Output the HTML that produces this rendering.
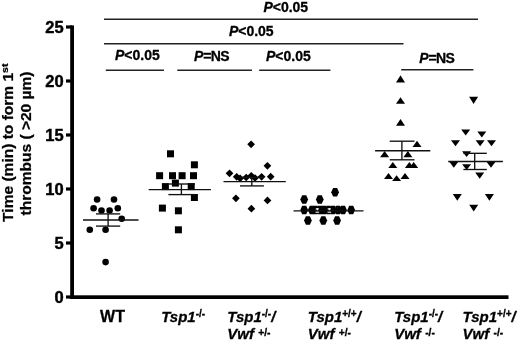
<!DOCTYPE html>
<html><head><meta charset="utf-8"><style>
html,body{margin:0;padding:0;background:#fff;width:520px;height:342px;overflow:hidden}
svg{display:block;will-change:transform}
</style></head><body>
<svg width="520" height="342" viewBox="0 0 520 342">
<g fill="#000" stroke="none">
<rect x="70.2" y="25.4" width="3.8" height="273.6"/>
<rect x="70.2" y="295.3" width="438.3" height="3.7"/>
<rect x="66" y="25.4" width="6" height="3.2"/>
<rect x="66" y="79.4" width="6" height="3.2"/>
<rect x="66" y="133.4" width="6" height="3.2"/>
<rect x="66" y="187.4" width="6" height="3.2"/>
<rect x="66" y="241.4" width="6" height="3.2"/>
<rect x="66" y="295.4" width="6" height="3.2"/>
</g>
<g font-family='"Liberation Sans", sans-serif' font-weight="bold" font-size="16.5" fill="#000" stroke="#000" stroke-width="0.45"><text x="63.6" y="32.5" text-anchor="end">25</text><text x="63.6" y="86.5" text-anchor="end">20</text><text x="63.6" y="140.5" text-anchor="end">15</text><text x="63.6" y="194.5" text-anchor="end">10</text><text x="63.6" y="248.5" text-anchor="end">5</text><text x="63.6" y="302.5" text-anchor="end">0</text></g>
<g font-family='"Liberation Sans", sans-serif' font-weight="bold" font-size="14" fill="#000" stroke="#000" stroke-width="0.25">
<text transform="translate(13,142.7) rotate(-90) scale(1.11,1)" text-anchor="middle">Time (min) to form 1<tspan font-size="9.5" dy="-5">st</tspan></text>
<text transform="translate(31,143.5) rotate(-90) scale(1.11,1)" text-anchor="middle">thrombus ( &gt;20 µm)</text>
</g>
<g font-family='"Liberation Sans", sans-serif' font-weight="bold" font-size="14" fill="#000" stroke="#000" stroke-width="0.3">
<text x="263.4" y="11.6"><tspan font-style="italic">P</tspan><tspan>&lt;0.05</tspan></text>
<text x="228.9" y="36.4"><tspan font-style="italic">P</tspan><tspan>&lt;0.05</tspan></text>
<text x="115" y="60"><tspan font-style="italic">P</tspan><tspan>&lt;0.05</tspan></text>
<text x="194" y="60.8"><tspan font-style="italic">P</tspan><tspan letter-spacing="-0.7">=NS</tspan></text>
<text x="266" y="60.5"><tspan font-style="italic">P</tspan><tspan>&lt;0.05</tspan></text>
<text x="419.2" y="62.5"><tspan font-style="italic">P</tspan><tspan letter-spacing="-0.7">=NS</tspan></text>
</g>
<g stroke="#222" stroke-width="1.4" fill="none">
<line x1="104" y1="19.3" x2="478" y2="19.3"/>
<line x1="104" y1="43.7" x2="403.5" y2="43.7"/>
<line x1="105.8" y1="70.3" x2="163.9" y2="70.3"/>
<line x1="177.3" y1="70.3" x2="251.9" y2="70.3"/>
<line x1="259.2" y1="70.3" x2="330.4" y2="70.3"/>
<line x1="401.2" y1="69.8" x2="473.4" y2="69.8"/>
</g>
<g fill="#000">
<circle cx="97.1" cy="199.5" r="3.3"/>
<circle cx="114" cy="199.5" r="3.3"/>
<circle cx="93.6" cy="208.3" r="3.3"/>
<circle cx="101.5" cy="210.5" r="3.3"/>
<circle cx="109.6" cy="210.5" r="3.3"/>
<circle cx="117.8" cy="208.3" r="3.3"/>
<circle cx="121.7" cy="218.8" r="3.3"/>
<circle cx="89.8" cy="229.8" r="3.3"/>
<circle cx="105.6" cy="229.8" r="3.3"/>
<circle cx="105.6" cy="262.1" r="3.3"/>
<rect x="167.00" y="150.30" width="7" height="7"/>
<rect x="190.90" y="161.30" width="7" height="7"/>
<rect x="156.10" y="172.20" width="7" height="7"/>
<rect x="169.00" y="172.20" width="7" height="7"/>
<rect x="178.60" y="172.20" width="7" height="7"/>
<rect x="190.00" y="172.20" width="7" height="7"/>
<rect x="171.90" y="179.60" width="7" height="7"/>
<rect x="161.90" y="183.10" width="7" height="7"/>
<rect x="187.70" y="183.10" width="7" height="7"/>
<rect x="190.90" y="194.00" width="7" height="7"/>
<rect x="158.90" y="204.60" width="7" height="7"/>
<rect x="174.90" y="207.30" width="7" height="7"/>
<rect x="174.90" y="226.30" width="7" height="7"/>
<polygon points="251.1,140.45 254.95,144.3 251.1,148.15 247.25,144.3"/>
<polygon points="267.4,161.95 271.25,165.8 267.4,169.65 263.55,165.8"/>
<polygon points="229.5,169.45 233.35,173.3 229.5,177.15 225.65,173.3"/>
<polygon points="236.7,172.95 240.55,176.8 236.7,180.65 232.85,176.8"/>
<polygon points="240.1,174.45 243.95,178.3 240.1,182.15 236.25,178.3"/>
<polygon points="246.2,173.65 250.05,177.5 246.2,181.35 242.35,177.5"/>
<polygon points="251.3,171.95 255.15,175.8 251.3,179.65 247.45,175.8"/>
<polygon points="255,174.15 258.85,178.0 255,181.85 251.15,178.0"/>
<polygon points="261.6,172.95 265.45,176.8 261.6,180.65 257.75,176.8"/>
<polygon points="270.7,172.85 274.55,176.70000000000002 270.7,180.55 266.85,176.70000000000002"/>
<polygon points="235.9,194.45 239.75,198.3 235.9,202.15 232.05,198.3"/>
<polygon points="267.5,196.55 271.35,200.4 267.5,204.25 263.65,200.4"/>
<polygon points="251.4,204.85 255.25,208.70000000000002 251.4,212.55 247.55,208.70000000000002"/>
<polygon points="331.20,192.3 333.10,188.00 337.10,188.00 339.00,192.3 337.10,196.60 333.10,196.60"/>
<polygon points="300.30,199.5 302.20,195.20 306.20,195.20 308.10,199.5 306.20,203.80 302.20,203.80"/>
<polygon points="315.90,199.5 317.80,195.20 321.80,195.20 323.70,199.5 321.80,203.80 317.80,203.80"/>
<polygon points="300.30,210 302.20,205.70 306.20,205.70 308.10,210 306.20,214.30 302.20,214.30"/>
<polygon points="307.90,210 309.80,205.70 313.80,205.70 315.70,210 313.80,214.30 309.80,214.30"/>
<polygon points="311.60,210 313.50,205.70 317.50,205.70 319.40,210 317.50,214.30 313.50,214.30"/>
<polygon points="316.10,210 318.00,205.70 322.00,205.70 323.90,210 322.00,214.30 318.00,214.30"/>
<polygon points="320.10,210 322.00,205.70 326.00,205.70 327.90,210 326.00,214.30 322.00,214.30"/>
<polygon points="324.60,210 326.50,205.70 330.50,205.70 332.40,210 330.50,214.30 326.50,214.30"/>
<polygon points="329.10,210 331.00,205.70 335.00,205.70 336.90,210 335.00,214.30 331.00,214.30"/>
<polygon points="334.10,210 336.00,205.70 340.00,205.70 341.90,210 340.00,214.30 336.00,214.30"/>
<polygon points="339.10,210 341.00,205.70 345.00,205.70 346.90,210 345.00,214.30 341.00,214.30"/>
<polygon points="347.30,210 349.20,205.70 353.20,205.70 355.10,210 353.20,214.30 349.20,214.30"/>
<polygon points="304.00,220.5 305.90,216.20 309.90,216.20 311.80,220.5 309.90,224.80 305.90,224.80"/>
<polygon points="319.40,220.5 321.30,216.20 325.30,216.20 327.20,220.5 325.30,224.80 321.30,224.80"/>
<polygon points="333.20,220.5 335.10,216.20 339.10,216.20 341.00,220.5 339.10,224.80 335.10,224.80"/>
<polygon points="400.5,75.3 405.00,82.6 396.00,82.6"/>
<polygon points="400.5,97.2 405.00,103.7 396.00,103.7"/>
<polygon points="400.5,119.1 405.00,125.8 396.00,125.8"/>
<polygon points="417,140.8 421.50,147 412.50,147"/>
<polygon points="384.6,151.1 389.10,157.3 380.10,157.3"/>
<polygon points="407.9,151.1 412.40,157.3 403.40,157.3"/>
<polygon points="392.8,162 397.30,168 388.30,168"/>
<polygon points="409.4,162 413.90,168 404.90,168"/>
<polygon points="413.7,162 418.20,168 409.20,168"/>
<polygon points="388.5,173 393.00,179 384.00,179"/>
<polygon points="396.6,175.2 401.10,181 392.10,181"/>
<polygon points="405,173 409.50,179 400.50,179"/>
<polygon points="469.10,96.7 478.10,96.7 473.6,103.9"/>
<polygon points="461.20,129.6 470.20,129.6 465.7,135.5"/>
<polygon points="477.30,131.4 486.30,131.4 481.8,137.5"/>
<polygon points="451.00,140.2 460.00,140.2 455.5,146.3"/>
<polygon points="475.60,140.2 484.60,140.2 480.1,146.3"/>
<polygon points="487.00,140.2 496.00,140.2 491.5,146.3"/>
<polygon points="462.10,151.2 471.10,151.2 466.6,157"/>
<polygon points="449.30,161.8 458.30,161.8 453.8,167.7"/>
<polygon points="462.10,164.2 471.10,164.2 466.6,170"/>
<polygon points="486.50,161.8 495.50,161.8 491,167.7"/>
<polygon points="475.20,172.6 484.20,172.6 479.7,178.8"/>
<polygon points="452.80,194 461.80,194 457.3,200.8"/>
<polygon points="484.90,194 493.90,194 489.4,200.8"/>
<polygon points="469.20,204.8 478.20,204.8 473.7,211.6"/>
</g>
<g stroke="#111" stroke-width="1.35" fill="none">
<line x1="83" y1="220" x2="138.5" y2="220"/><line x1="96" y1="213.9" x2="120.2" y2="213.9"/><line x1="96" y1="226.1" x2="120.2" y2="226.1"/><line x1="108.1" y1="213.9" x2="108.1" y2="226.1"/>
<line x1="148.7" y1="189.6" x2="210.9" y2="189.6"/><line x1="168.4" y1="184" x2="195" y2="184"/><line x1="168.4" y1="194.6" x2="195" y2="194.6"/><line x1="181.4" y1="184" x2="181.4" y2="194.6"/>
<line x1="223.5" y1="181.6" x2="285.8" y2="181.6"/><line x1="240" y1="177.3" x2="263.9" y2="177.3"/><line x1="240" y1="185.9" x2="263.9" y2="185.9"/><line x1="251.8" y1="177.3" x2="251.8" y2="185.9"/>
<line x1="293.5" y1="210.8" x2="363.5" y2="210.8"/>
<line x1="375.1" y1="150.7" x2="430.3" y2="150.7"/><line x1="389.7" y1="141.2" x2="414.5" y2="141.2"/><line x1="389.7" y1="159.8" x2="414.5" y2="159.8"/><line x1="401.9" y1="141.2" x2="401.9" y2="159.8"/>
<line x1="448.2" y1="161.5" x2="502.9" y2="161.5"/><line x1="463.4" y1="153.3" x2="486.8" y2="153.3"/><line x1="463.4" y1="169.5" x2="486.8" y2="169.5"/><line x1="474.7" y1="153.3" x2="474.7" y2="169.5"/>
</g>
<g fill="#fff">
<rect x="315.7" y="208.3" width="3.2" height="1.2"/><rect x="316.8" y="208.3" width="1" height="2"/><rect x="315.5" y="211.7" width="3.6" height="1"/>
<rect x="327.7" y="208.3" width="3.2" height="1.2"/><rect x="328.8" y="208.3" width="1" height="2"/><rect x="327.5" y="211.7" width="3.6" height="1"/>
</g>
<g font-family='"Liberation Sans", sans-serif' font-weight="bold" font-size="15" fill="#000" stroke="#000" stroke-width="0.3">
<text x="100.1" y="322" font-size="16">WT</text>
<text x="161.2" y="321.6"><tspan font-style="italic">Tsp1</tspan><tspan font-size="10" dy="-4.2">-/-</tspan><tspan dy="4.2" font-style="italic"></tspan></text>
<text x="227.3" y="321.6"><tspan font-style="italic">Tsp1</tspan><tspan font-size="10" dy="-4.2">-/-</tspan><tspan dy="4.2" font-style="italic">/</tspan></text><text x="227.3" y="339"><tspan font-style="italic">Vwf</tspan><tspan font-size="10.3" dy="-3.5" dx="1.4">&#160;+/-</tspan></text>
<text x="307.8" y="321.6"><tspan font-style="italic">Tsp1</tspan><tspan font-size="10" dy="-4.2">+/+</tspan><tspan dy="4.2" font-style="italic">/</tspan></text><text x="307.8" y="339"><tspan font-style="italic">Vwf</tspan><tspan font-size="10.3" dy="-3.5" dx="1.4">&#160;+/-</tspan></text>
<text x="394.2" y="321.6"><tspan font-style="italic">Tsp1</tspan><tspan font-size="10" dy="-4.2">-/-</tspan><tspan dy="4.2" font-style="italic">/</tspan></text><text x="394.2" y="339"><tspan font-style="italic">Vwf</tspan><tspan font-size="10.3" dy="-3.5" dx="1.4">&#160;-/-</tspan></text>
<text x="462.6" y="321.6"><tspan font-style="italic">Tsp1</tspan><tspan font-size="10" dy="-4.2">+/+</tspan><tspan dy="4.2" font-style="italic">/</tspan></text><text x="462.6" y="339"><tspan font-style="italic">Vwf</tspan><tspan font-size="10.3" dy="-3.5" dx="1.4">&#160;-/-</tspan></text>
</g>
</svg>
</body></html>
